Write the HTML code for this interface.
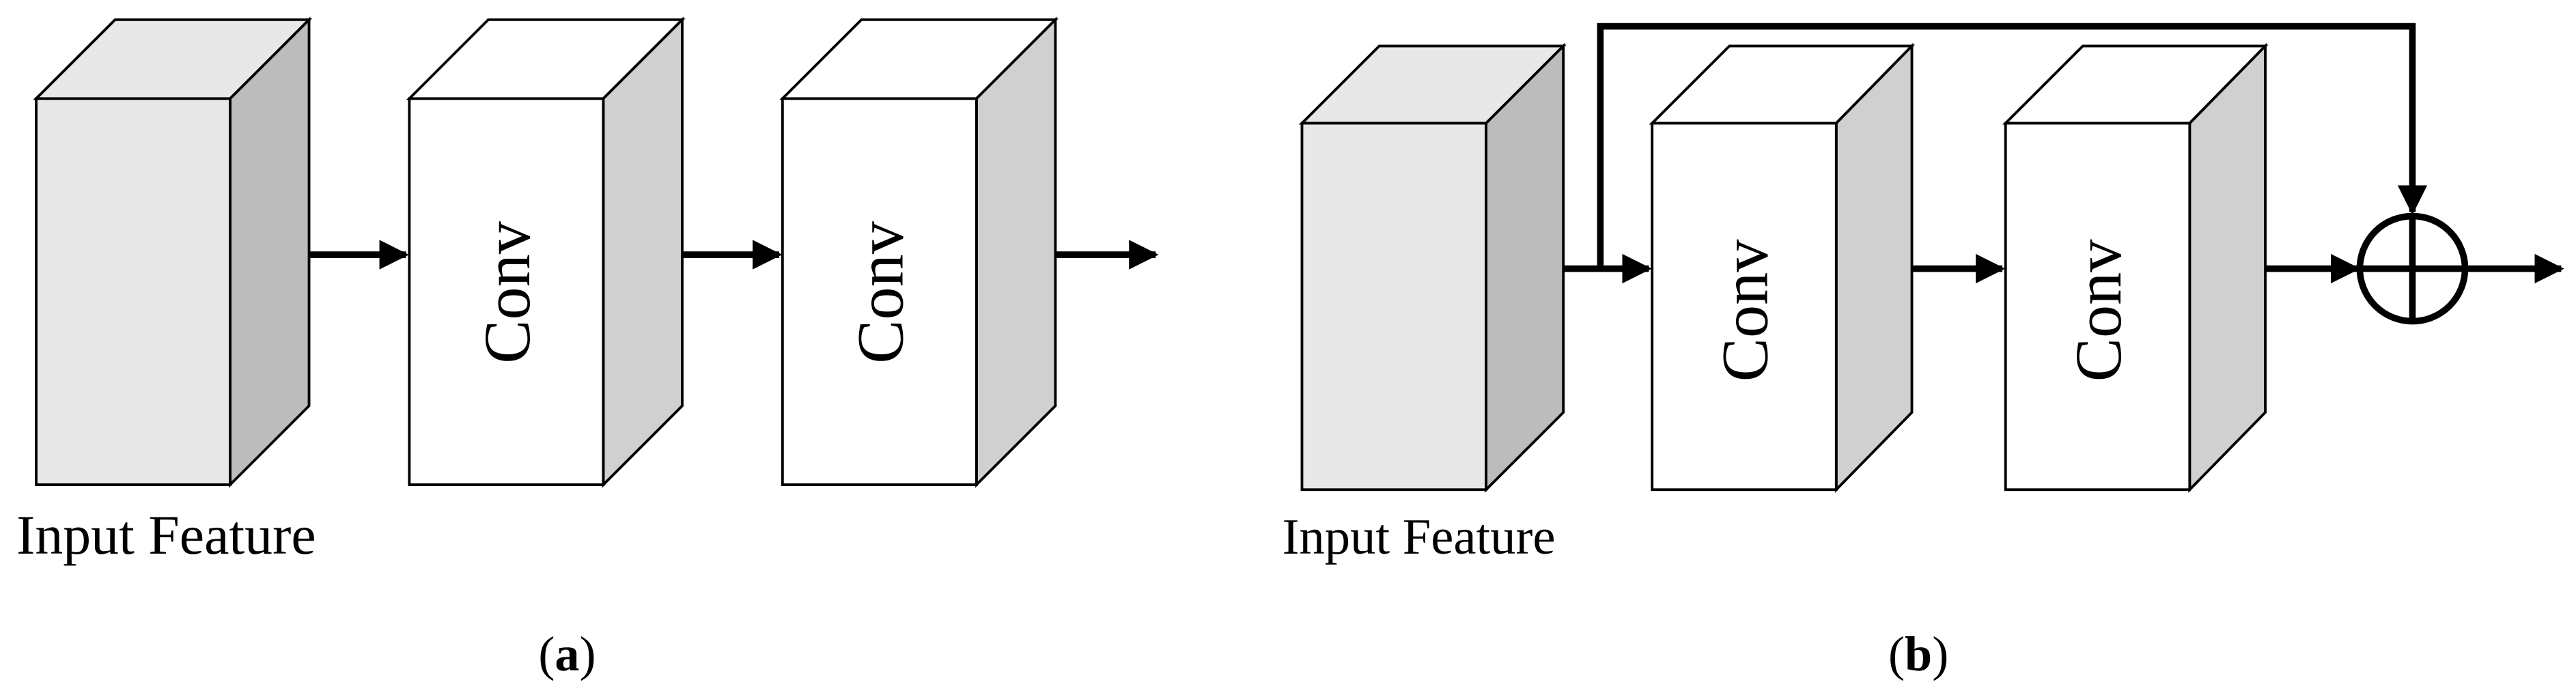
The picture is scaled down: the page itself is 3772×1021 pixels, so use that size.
<!DOCTYPE html>
<html><head><meta charset="utf-8"><style>
html,body{margin:0;padding:0;background:#fff;}
svg{display:block;}
text{font-family:"Liberation Serif",serif;fill:#000;}
</style></head><body>
<svg width="3772" height="1021" viewBox="0 0 1567 424.2" preserveAspectRatio="none" xmlns="http://www.w3.org/2000/svg">
<defs>
<marker id="ah" viewBox="0 0 10 10" refX="9" refY="5" markerWidth="4.5" markerHeight="4.5" orient="auto" markerUnits="strokeWidth">
<path d="M0,0 L10,5 L0,10 z" fill="#000"/></marker>
</defs>
<g stroke="#000" stroke-width="1.6" stroke-linejoin="miter">
<polygon points="22,60 70,12 188,12 140,60" fill="#e8e8e8"/>
<polygon points="140,60 188,12 188,247 140,295" fill="#bcbcbc"/>
<rect x="22" y="60" width="118" height="235" fill="#e8e8e8"/>
<polygon points="249,60 297,12 415,12 367,60" fill="#fff"/>
<polygon points="367,60 415,12 415,247 367,295" fill="#d0d0d0"/>
<rect x="249" y="60" width="118" height="235" fill="#fff"/>
<polygon points="476,60 524,12 642,12 594,60" fill="#fff"/>
<polygon points="594,60 642,12 642,247 594,295" fill="#d0d0d0"/>
<rect x="476" y="60" width="118" height="235" fill="#fff"/>
<polygon points="792,75 839,28 951,28 904,75" fill="#e8e8e8"/>
<polygon points="904,75 951,28 951,251 904,298" fill="#bcbcbc"/>
<rect x="792" y="75" width="112" height="223" fill="#e8e8e8"/>
<polygon points="1005,75 1052,28 1163,28 1117,75" fill="#fff"/>
<polygon points="1117,75 1163,28 1163,251 1117,298" fill="#d0d0d0"/>
<rect x="1005" y="75" width="112" height="223" fill="#fff"/>
<polygon points="1220,75 1267,28 1378,28 1332,75" fill="#fff"/>
<polygon points="1332,75 1378,28 1378,251 1332,298" fill="#d0d0d0"/>
<rect x="1220" y="75" width="112" height="223" fill="#fff"/>
</g>
<g stroke="#000" stroke-width="4" fill="none">
<line x1="188" y1="155" x2="247" y2="155" marker-end="url(#ah)"/>
<line x1="415" y1="155" x2="474" y2="155" marker-end="url(#ah)"/>
<line x1="642" y1="155" x2="703" y2="155" marker-end="url(#ah)"/>
<line x1="951" y1="163.5" x2="1003" y2="163.5" marker-end="url(#ah)"/>
<line x1="1163" y1="163.5" x2="1218" y2="163.5" marker-end="url(#ah)"/>
<line x1="1378" y1="163.5" x2="1434" y2="163.5" marker-end="url(#ah)"/>
<line x1="1499" y1="163.5" x2="1558" y2="163.5" marker-end="url(#ah)"/>
<polyline points="973.5,163.5 973.5,16 1467.5,16 1467.5,129" marker-end="url(#ah)"/>
<circle cx="1467.5" cy="163.5" r="32"/>
<line x1="1467.5" y1="131.5" x2="1467.5" y2="195.5"/>
<line x1="1435.5" y1="163.5" x2="1499.5" y2="163.5"/>
</g>
<g font-size="40">
<text transform="translate(322,178) rotate(-90)" text-anchor="middle">Conv</text>
<text transform="translate(549,178) rotate(-90)" text-anchor="middle">Conv</text>
<text transform="translate(1075,189) rotate(-90)" text-anchor="middle">Conv</text>
<text transform="translate(1290,189) rotate(-90)" text-anchor="middle">Conv</text>
</g>
<text x="10" y="337" font-size="34">Input Feature</text>
<text x="780" y="337" font-size="31">Input Feature</text>
<text x="345" y="408" font-size="30" text-anchor="middle">(<tspan font-weight="bold">a</tspan>)</text>
<text x="1167" y="408" font-size="30" text-anchor="middle">(<tspan font-weight="bold">b</tspan>)</text>
</svg>
</body></html>
